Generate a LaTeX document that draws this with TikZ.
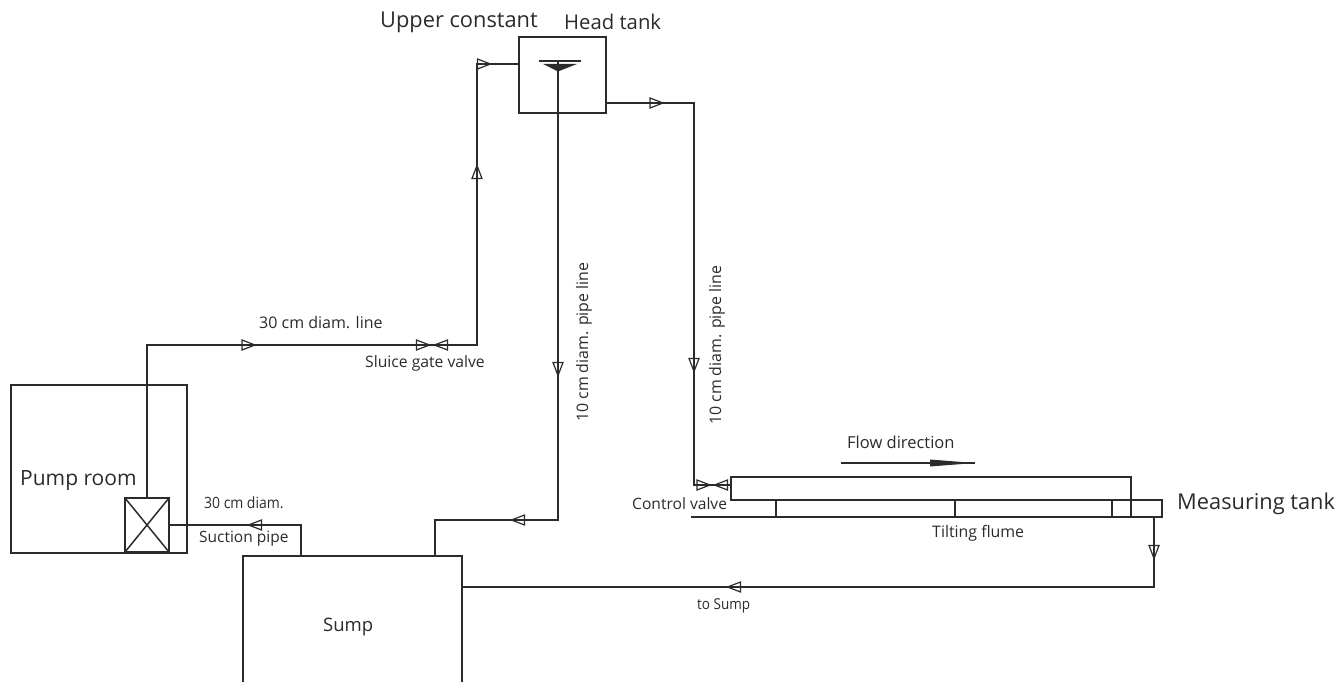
\documentclass[tikz,border=0pt]{standalone}
\usepackage{fontspec}
\setmainfont{Open Sans}
\usetikzlibrary{calc}
\definecolor{ink}{HTML}{2B2B2B}
\newcommand{\fsz}[1]{\fontsize{#1}{#1}\selectfont}
\tikzset{
  x=1pt,y=-1pt,
  pipe/.style={draw=ink,line width=1.5pt,line join=miter},
  thin pipe/.style={draw=ink,line width=1.2pt},
  boxnode/.style={draw=ink,line width=1.5pt,inner sep=0pt,outer sep=0pt,anchor=north west},
  big/.style={inner sep=0pt,text=ink,anchor=west},
  small/.style={inner sep=0pt,text=ink,anchor=west},
  flow/.pic={\draw[ink,line width=1.2pt,line join=miter] (-6.5,-5) -- (6.5,0) -- (-6.5,5) -- cycle;}
}
\begin{document}
\begin{tikzpicture}
\useasboundingbox (0,0) rectangle (1338,682);
% boxes
\node[boxnode,minimum width=176pt,minimum height=168pt] (room) at (11,385) {};
\node[boxnode,minimum width=44pt,minimum height=54pt] (pump) at (125,498) {};
\node[boxnode,minimum width=87pt,minimum height=76pt] (head) at (519,37) {};
\node[boxnode,minimum width=400pt,minimum height=23pt] (flume) at (731,477) {};
\coordinate (bedL) at (691,517);
\coordinate (bedR) at (1162,517);
\coordinate (bedTL) at (731,500);
\coordinate (bedTR) at (1162,500);
\draw[pipe] (bedL) -- (bedR) -- (bedTR) -- (bedTL);
\draw[pipe] (pump.north west) -- (pump.south east);
\draw[pipe] (pump.north east) -- (pump.south west);
% sump (runs off the lower edge)
\coordinate (sumpBL) at (243,682);
\coordinate (sumpTL) at (243,556);
\coordinate (sumpTR) at (462,556);
\coordinate (sumpBR) at (462,682);
\draw[pipe] (sumpBL) -- (sumpTL) -- (sumpTR) -- (sumpBR);
% named pipe points
\coordinate (c1) at (477,345);
\coordinate (headIn) at (519,64);
\coordinate (waterTop) at (558,61);
\coordinate (c2) at (558,520);
\coordinate (sumpIn) at (435,556);
\coordinate (headOut) at (606,103);
\coordinate (c3) at (694,103);
\coordinate (c4) at (694,485);
\coordinate (flumeIn) at (731,485);
\coordinate (mtOut) at (1154,517);
\coordinate (c5) at (1154,587);
\coordinate (sumpR) at (462,587);
\coordinate (pumpOut) at (169,525);
\coordinate (c6) at (301,525);
\coordinate (sumpTop) at (301,556);
\coordinate (c7) at (147,345);
% pipes
\draw[pipe] (pump.north) -- (c7) -- (c1) -- (477,64) -- (headIn);
\draw[pipe] (waterTop) -- (c2) -- (435,520) -- (sumpIn);
\draw[pipe] (headOut) -- (c3) -- (c4) -- (flumeIn);
\draw[pipe] (mtOut) -- (c5) -- (sumpR);
\draw[pipe] (pumpOut) -- (c6) -- (sumpTop);
% flume partitions
\coordinate (t1) at (776,500); \coordinate (b1) at (776,517);
\coordinate (t2) at (955,500); \coordinate (b2) at (955,517);
\coordinate (t3) at (1112,500); \coordinate (b3) at (1112,517);
\coordinate (b4) at (1131,517);
\draw[pipe] (t1) -- (b1);
\draw[pipe] (t2) -- (b2);
\draw[pipe] (t3) -- (b3);
\draw[pipe] (flume.south east) -- (b4);
% water level symbol in head tank
\draw[draw=ink,line width=1.4pt] (539,61) -- (581,61);
\fill[ink] (543,64) -- (577,64) -- (558,71.5) -- cycle;
% flow arrows
\pic at (248.5,345) {flow};
\pic[rotate=90] at (477,172) {flow};
\pic at (484,64) {flow};
\pic at (656.5,103) {flow};
\pic[rotate=-90] at (558,369) {flow};
\pic[rotate=180] at (518,520) {flow};
\pic[rotate=-90] at (694,365) {flow};
\pic[rotate=-90] at (1154,552) {flow};
\pic[rotate=180] at (734,587) {flow};
\pic[rotate=180] at (255,525) {flow};
% valves
\pic at (423,345) {flow};
\pic[rotate=180] at (441,345) {flow};
\pic at (703.5,485) {flow};
\pic[rotate=180] at (721,485) {flow};
% flow direction arrow
\coordinate (fa) at (841,463);
\coordinate (fb) at (975,463);
\draw[thin pipe] (fa) -- (fb);
\fill[ink] (930,459.5) -- (fb) -- (930,466.5) -- cycle;
% labels
\node[big,font=\fsz{21.8}] (l1) at (380,22) {Upper constant};
\node[big,font=\fsz{20.3}] (l2) at (564,22) {Head tank};
\node[big,font=\fsz{21.8}] (l3) at (1177,504) {Measuring tank};
\node[big,font=\fsz{21}] (l4) at (20,481) {Pump room};
\node[big,font=\fsz{18.5}] (l5) at (323,627) {Sump};
\node[small,font=\fsz{16}] (l6) at (259,323) {30 cm diam. line};
\node[small,font=\fsz{15.7}] (l7) at (365,363) {Sluice gate valve};
\node[small,font=\fsz{15.5},xscale=0.9] (l8) at (204,503) {30 cm diam.};
\node[small,font=\fsz{15.5}] (l9) at (199,539) {Suction pipe};
\node[small,font=\fsz{15.6}] (l10) at (632,504) {Control valve};
\node[small,font=\fsz{16.5}] (l11) at (847,442) {Flow direction};
\node[small,font=\fsz{15.9}] (l12) at (932,533) {Tilting flume};
\node[small,font=\fsz{15},xscale=0.9] (l13) at (697,606) {to Sump};
\node[small,font=\fsz{15.9},rotate=90] (l14) at (584,422) {10 cm diam. pipe line};
\node[small,font=\fsz{15.9},rotate=90] (l15) at (717,425) {10 cm diam. pipe line};
\end{tikzpicture}
\end{document}
